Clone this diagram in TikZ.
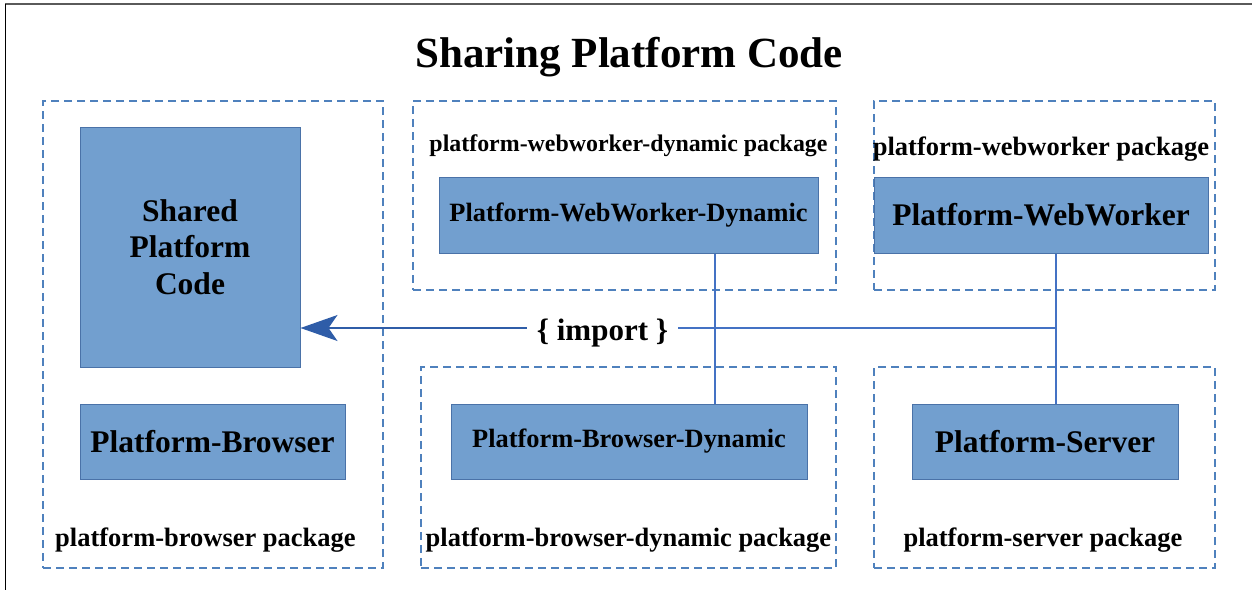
\documentclass[tikz,border=0pt]{standalone}
\usepackage{fontspec}
\setmainfont{Liberation Serif}
\usetikzlibrary{arrows.meta}
\definecolor{boxfill}{RGB}{114,159,207}
\definecolor{boxline}{RGB}{74,114,168}
\definecolor{dashc}{RGB}{79,129,189}
\definecolor{linec}{RGB}{68,114,196}
\definecolor{arrc}{RGB}{47,93,168}
\definecolor{framec}{RGB}{90,90,90}
\tikzset{
  blk/.style={draw=boxline, fill=boxfill, line width=1pt, inner sep=0pt, align=center},
  bigtxt/.style={font=\bfseries\fontsize{31.5}{36.7}\selectfont},
  midtxt/.style={font=\bfseries\fontsize{26.4}{30}\selectfont},
  pkg/.style={draw=dashc, line width=1.2pt, dash pattern=on 8pt off 5pt, inner sep=0pt},
  lbl/.style={anchor=base, inner sep=0pt, font=\bfseries\fontsize{26.5}{30}\selectfont},
  conn/.style={draw=linec, line width=1.2pt},
}
\begin{document}
\begin{tikzpicture}[x=1pt,y=-1pt]
\useasboundingbox (0,0) rectangle (1252,590);
% frame
\draw[framec, line width=1.4pt] (5,4) -- (1252,4);
\draw[black, line width=1pt] (5,4) -- (5,590);
% title
\node[anchor=base, inner sep=0pt, font=\bfseries\fontsize{43}{50}\selectfont] (title) at (629,67) {Sharing Platform Code};
% package boxes
\node[pkg, minimum width=340pt, minimum height=467pt] (pbrowser) at (213,334.5) {};
\node[pkg, minimum width=423pt, minimum height=189pt] (pwwd) at (624.5,195.5) {};
\node[pkg, minimum width=341pt, minimum height=189pt] (pww) at (1044.5,195.5) {};
\node[pkg, minimum width=415pt, minimum height=201pt] (pbd) at (628.5,467.5) {};
\node[pkg, minimum width=341pt, minimum height=201pt] (pserver) at (1044.5,467.5) {};
% package labels
\node[lbl, font=\bfseries\fontsize{23.9}{28}\selectfont] (lwwd) at (628.5,151.5) {platform-webworker-dynamic package};
\node[lbl] (lww) at (1041,155) {platform-webworker package};
\node[lbl] (lbrowser) at (205.5,546.5) {platform-browser package};
\node[lbl] (lbd) at (628.5,546.5) {platform-browser-dynamic package};
\node[lbl] (lserver) at (1043,546.5) {platform-server package};
% solid boxes
\node[blk, bigtxt, minimum width=220pt, minimum height=240pt] (shared) at (190,247) {Shared\\Platform\\Code};
\node[blk, bigtxt, minimum width=265pt, minimum height=75pt] (browser) at (212.5,441.5) {Platform-Browser};
\node[blk, midtxt, minimum width=379pt, minimum height=76pt] (wwd) at (628.5,215) {Platform-WebWorker-Dynamic};
\node[blk, bigtxt, minimum width=334pt, minimum height=76pt] (ww) at (1041,215) {Platform-WebWorker};
\node[blk, midtxt, minimum width=356pt, minimum height=75pt] (bd) at (629,441.5) {Platform-Browser-Dynamic};
\node[blk, bigtxt, minimum width=266pt, minimum height=75pt] (server) at (1045,441.5) {Platform-Server};
% connectors
\coordinate (j1) at (715,328);
\coordinate (j2) at (1056,328);
\node[anchor=base, inner xsep=10pt, inner ysep=2pt, font=\bfseries\fontsize{31}{36}\selectfont] (imp) at (602.5,340) {\{ import \}};
\draw[conn] (wwd.south -| j1) -- (bd.north -| j1);
\draw[conn] (ww.south -| j2) -- (server.north -| j2);
\draw[conn] (j2) -- (imp.east |- j2);
\draw[conn, arrc, -{Stealth[length=37pt, width=26pt, inset=9pt]}] (imp.west |- j2) -- (shared.east |- j2);
\end{tikzpicture}
\end{document}
